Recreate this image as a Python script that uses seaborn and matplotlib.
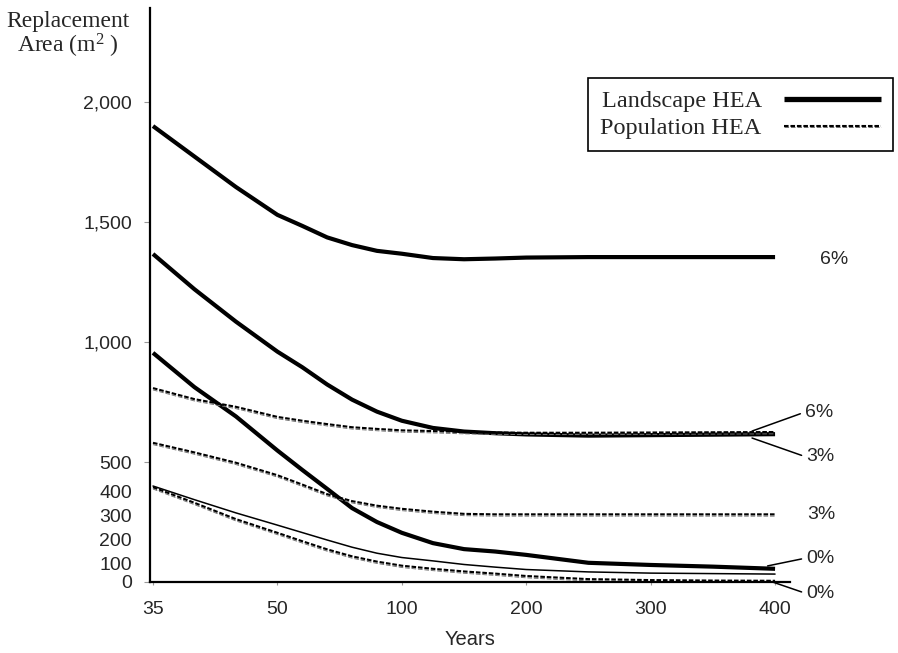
import numpy as np
import pandas as pd
import matplotlib
matplotlib.use('Agg')
import matplotlib.pyplot as plt
import matplotlib.patheffects as pe
from matplotlib.lines import Line2D
from matplotlib.transforms import ScaledTranslation
import seaborn as sns

# Datos (area de reemplazo, m2)
years = [35, 40, 45, 50, 60, 70, 80, 90, 100, 125, 150, 175, 200, 250, 300, 350, 400]
landscape_6 = [1900, 1773, 1646, 1530, 1484, 1436, 1404, 1380, 1368, 1350, 1345, 1348, 1352, 1354, 1354, 1354, 1354]
landscape_3 = [1367, 1220, 1085, 960, 895, 823, 760, 710, 672, 642, 627, 620, 615, 610, 612, 614, 616]
landscape_0 = [955, 812, 690, 548, 467, 388, 308, 250, 205, 162, 137, 127, 113, 80, 71, 64, 55]
landscape_0_thin = [400, 343, 288, 237, 206, 175, 145, 120, 102, 88, 73, 62, 52, 42, 37, 35, 33]
population_6 = [808, 762, 730, 688, 672, 658, 645, 638, 632, 629, 625, 623, 622, 622, 623, 624, 625]
population_3 = [580, 540, 497, 445, 406, 366, 337, 318, 305, 293, 284, 282, 282, 282, 282, 282, 282]
population_0 = [395, 330, 262, 205, 170, 136, 107, 85, 68, 55, 44, 35, 25, 12, 8, 6, 5]

x_ticks = [35, 50, 100, 200, 300, 400]
y_major = [0, 500, 1000, 1500, 2000]
y_minor = [100, 200, 300, 400]

sns.set_style('ticks')
plt.rcParams['font.family'] = ['Liberation Sans', 'DejaVu Sans']
plt.rcParams['mathtext.fontset'] = 'custom'
plt.rcParams['mathtext.rm'] = 'Liberation Serif'
plt.rcParams['mathtext.it'] = 'Liberation Serif:italic'

# Escala del eje x: los anos de las marcas quedan equiespaciados
pos = np.arange(len(x_ticks), dtype=float)


def fwd(x):
    x = np.asarray(x, dtype=float)
    return np.where(x < 35, (x - 35) / 15.0,
                    np.where(x > 400, 5 + (x - 400) / 100.0, np.interp(x, x_ticks, pos)))


def inv(i):
    i = np.asarray(i, dtype=float)
    return np.where(i < 0, 35 + i * 15.0,
                    np.where(i > 5, 400 + (i - 5) * 100.0, np.interp(i, pos, x_ticks)))


fig = plt.figure(figsize=(8.98, 6.53), dpi=100)
ax = fig.add_axes([150 / 898, 71 / 653, 640 / 898, 574 / 653])
ax.set_xscale('function', functions=(fwd, inv))

df = pd.DataFrame({'year': years})

thick = dict(color='black', lw=3.0, solid_capstyle='butt')
pop_style = dict(color='black', lw=1.5, dashes=(2.2, 0.9),
                 path_effects=[pe.Stroke(offset=(0, -1.3), linewidth=0.7, foreground='0.45'),
                               pe.Normal()])

sns.lineplot(x=df['year'], y=landscape_6, ax=ax, **thick)
sns.lineplot(x=df['year'], y=landscape_3, ax=ax, **thick)
sns.lineplot(x=df['year'], y=landscape_0, ax=ax, **thick)
sns.lineplot(x=df['year'], y=landscape_0_thin, ax=ax, color='black', lw=1.1)
sns.lineplot(x=df['year'], y=population_6, ax=ax, **pop_style)
sns.lineplot(x=df['year'], y=population_3, ax=ax, **pop_style)
sns.lineplot(x=df['year'], y=population_0, ax=ax, **pop_style)

ax.set_xlim(inv(-0.024), inv(5.12))
ax.set_ylim(0, 2392)

sns.despine(ax=ax)
for side in ['left', 'bottom']:
    ax.spines[side].set_linewidth(1.6)
    ax.spines[side].set_color('black')

ax.set_xticks(x_ticks)
ax.set_xticklabels([str(v) for v in x_ticks], fontsize=14)
ax.xaxis.set_minor_locator(matplotlib.ticker.NullLocator())
ax.tick_params(axis='x', length=2, color='0.6', pad=12)

ax.set_yticks(y_major)
ax.set_yticklabels([f'{v:,}' for v in y_major], fontsize=14)
ax.set_yticks(y_minor, minor=True)
ax.set_yticklabels([str(v) for v in y_minor], minor=True, fontsize=14)
ax.tick_params(axis='y', which='major', length=4, color='0.6', pad=9)
ax.tick_params(axis='y', which='minor', length=0, pad=13)
# las etiquetas 100-400 del original aparecen algo mas abajo
shift = ScaledTranslation(0, -4 / 72, fig.dpi_scale_trans)
for t in ax.yaxis.get_minorticklabels():
    t.set_transform(t.get_transform() + shift)

ax.set_xlabel('Years', fontsize=14.5, labelpad=8)
ax.set_ylabel('')

fig.text(68 / 898, 1 - 22 / 653, 'Replacement', family='Liberation Serif',
         fontsize=17, ha='center', va='center')
fig.text(68 / 898, 1 - 46 / 653, r'Area (m$^{2}$ )', family='Liberation Serif',
         fontsize=17, ha='center', va='center')

# Etiquetas de tasa de descuento
lab = dict(fontsize=14, va='center', ha='left', annotation_clip=False)
line = dict(arrowstyle='-', color='black', lw=1.1, relpos=(0, 0.5), shrinkA=1, shrinkB=0)
ax.annotate('6%', xy=(inv(5.36), 1342), **lab)
ax.annotate('6%', xy=(inv(4.815), 629), xytext=(inv(5.24), 708), arrowprops=line, **lab)
ax.annotate('3%', xy=(inv(4.815), 600), xytext=(inv(5.25), 521), arrowprops=line, **lab)
ax.annotate('3%', xy=(inv(5.26), 283), **lab)
ax.annotate('0%', xy=(inv(4.94), 67), xytext=(inv(5.25), 100), arrowprops=line, **lab)
ax.annotate('0%', xy=(inv(4.98), 0), xytext=(inv(5.25), -48), arrowprops=line, **lab)

# Leyenda
handles = [Line2D([], [], color='black', lw=3.8, solid_capstyle='butt'),
           Line2D([], [], **pop_style)]
leg = ax.legend(handles, ['Landscape HEA', 'Population HEA'], loc='upper right',
                bbox_to_anchor=(893 / 898, 1 - 78 / 653), bbox_transform=fig.transFigure,
                markerfirst=False, handlelength=4.0, fancybox=False, frameon=True,
                edgecolor='black', framealpha=1, borderpad=0.5, labelspacing=0.2,
                handletextpad=0.9, borderaxespad=0,
                prop={'family': 'Liberation Serif', 'size': 17.5})
leg.get_frame().set_linewidth(1.2)

plt.savefig('out.png', dpi=100, facecolor='white')
